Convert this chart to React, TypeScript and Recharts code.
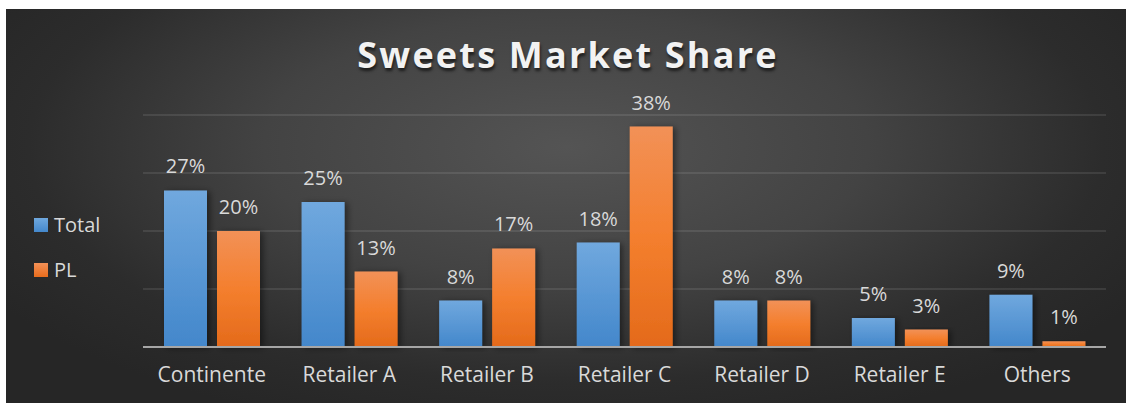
import React from 'react';
import { BarChart, Bar, XAxis, YAxis, CartesianGrid, LabelList, Rectangle } from 'recharts';

const categories = ['Continente', 'Retailer A', 'Retailer B', 'Retailer C', 'Retailer D', 'Retailer E', 'Others'];
const totalShare = [27, 25, 8, 18, 8, 5, 9];
const plShare = [20, 13, 17, 38, 8, 3, 1];
const yTicks = [0, 10, 20, 30, 40];

const data = categories.map((name, i) => ({ name, total: totalShare[i], pl: plShare[i] }));

const FONT = '"Open Sans", "Liberation Sans", sans-serif';
const TEXT = '#d9d9d9';

const legendItems = [
  { label: 'Total', bg: 'linear-gradient(#6fa8de, #4488cc)' },
  { label: 'PL', bg: 'linear-gradient(#f39157, #e86c1c)' },
];

const ShadowBar = (props: any) => <Rectangle {...props} filter="url(#barShadow)" />;

export default function App() {
  return (
    <div style={{ position: 'absolute', left: 0, top: 0, width: 1126, height: 403, background: '#fff', overflow: 'hidden' }}>
      <div
        style={{
          position: 'absolute',
          left: 6,
          top: 9,
          width: 1120,
          height: 394,
          background: 'radial-gradient(ellipse 60% 75% at 50% 35%, #545454 0%, #434343 45%, #2c2c2c 80%, #262626 100%)',
        }}
      />
      <div
        style={{
          position: 'absolute',
          left: 0,
          top: 30,
          width: 1136,
          textAlign: 'center',
          fontFamily: FONT,
          fontWeight: 700,
          fontSize: 36,
          letterSpacing: 2.2,
          color: '#f2f2f2',
          textShadow: '1px 3px 3px rgba(0,0,0,0.6)',
        }}
      >
        Sweets Market Share
      </div>
      {/* legend on the left, outside the plot */}
      <div style={{ position: 'absolute', left: 34, top: 202, fontFamily: FONT, fontSize: 20, color: TEXT }}>
        {legendItems.map((it) => (
          <div key={it.label} style={{ display: 'flex', alignItems: 'center', height: 45 }}>
            <span style={{ width: 14, height: 14, background: it.bg, marginRight: 6, display: 'inline-block' }} />
            <span>{it.label}</span>
          </div>
        ))}
      </div>
      <div style={{ position: 'absolute', left: 0, top: 0 }}>
        <BarChart width={1126} height={403} data={data} margin={{ top: 115, right: 20, bottom: 0, left: 143 }} barSize={43} barGap={10}>
          <defs>
            <linearGradient id="blueGrad" x1="0" y1="0" x2="0" y2="1">
              <stop offset="0%" stopColor="#70a8de" />
              <stop offset="100%" stopColor="#4387cb" />
            </linearGradient>
            <linearGradient id="orangeGrad" x1="0" y1="0" x2="0" y2="1">
              <stop offset="0%" stopColor="#f29157" />
              <stop offset="50%" stopColor="#f47f2e" />
              <stop offset="100%" stopColor="#e46a1b" />
            </linearGradient>
            <filter id="barShadow" x="-30%" y="-10%" width="160%" height="120%">
              <feDropShadow dx="3" dy="1" stdDeviation="3" floodColor="#000" floodOpacity="0.45" />
            </filter>
          </defs>
          <CartesianGrid vertical={false} stroke="rgba(255,255,255,0.13)" strokeWidth={1.5} />
          <YAxis hide domain={[0, 40]} ticks={yTicks} />
          <XAxis
            dataKey="name"
            height={56}
            tickLine={false}
            axisLine={{ stroke: '#a6a6a6', strokeWidth: 2 }}
            tickMargin={14}
            tick={{ fill: TEXT, fontSize: 21, fontFamily: FONT }}
            interval={0}
          />
          <Bar dataKey="total" name="Total" fill="url(#blueGrad)" shape={ShadowBar} isAnimationActive={false}>
            <LabelList dataKey="total" position="top" offset={17} formatter={(v: any) => `${v}%`} fill={TEXT} fontSize={20} fontFamily={FONT} />
          </Bar>
          <Bar dataKey="pl" name="PL" fill="url(#orangeGrad)" shape={ShadowBar} isAnimationActive={false}>
            <LabelList dataKey="pl" position="top" offset={17} formatter={(v: any) => `${v}%`} fill={TEXT} fontSize={20} fontFamily={FONT} />
          </Bar>
        </BarChart>
      </div>
    </div>
  );
}
